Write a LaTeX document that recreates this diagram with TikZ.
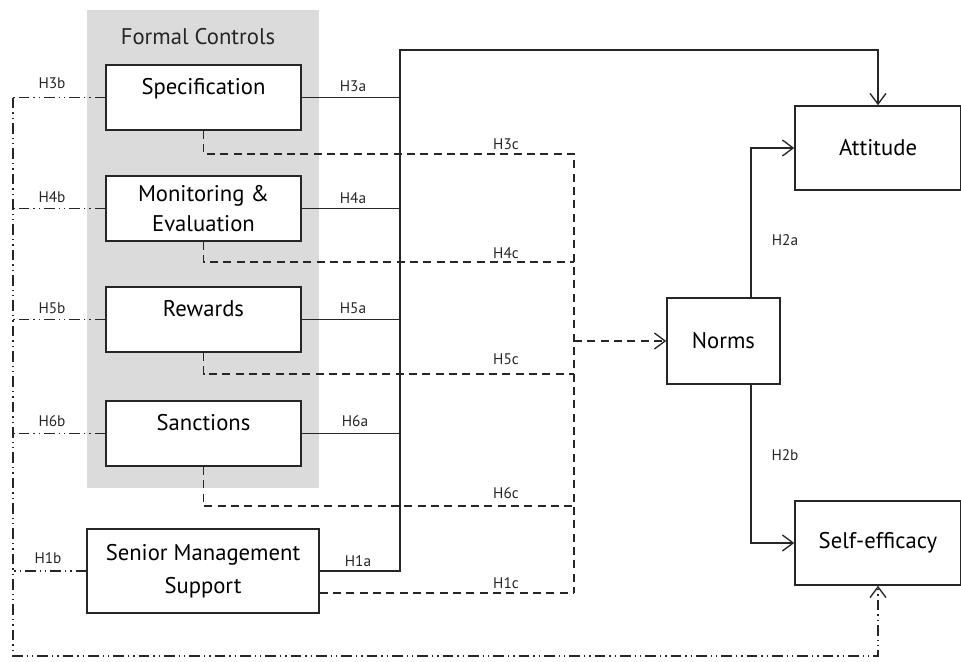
\documentclass[tikz,border=0pt]{standalone}
\usepackage{fontspec}
\setmainfont{PT Sans}
\usetikzlibrary{arrows.meta,calc}

\tikzset{
  box/.style={draw=black!85, fill=white, line width=1.2pt, font=\fontsize{17}{22.5}\selectfont, align=center, inner sep=0pt},
  upbox/.style={box, text height=12pt, text depth=17pt},
  hlab/.style={font=\fontsize{11.5}{13}\selectfont, inner sep=0pt, text=black!85},
  solidline/.style={line width=1pt, draw=black!85},
  dashline/.style={line width=1pt, draw=black!85, dash pattern=on 6pt off 4pt},
  dashdotline/.style={line width=1pt, draw=black!85, dash pattern=on 8pt off 3pt on 1pt off 3pt on 1pt off 3pt},
  openarrow/.style={-{Straight Barb[length=8pt,width=12pt]}},
}

\begin{document}
\begin{tikzpicture}[x=0.75pt,y=-0.75pt]
			%%%%% START %%%%%
			\useasboundingbox (0,0) rectangle (961,661);

			% shaded group
			\fill[black!14] (87,10) rectangle (319,488);
			\node[font=\fontsize{17}{20}\selectfont, text=black!85] (fc) at (198,37) {Formal Controls};

			% boxes
			\node[upbox, minimum width=146pt, minimum height=49pt] (spec) at (203.5,97.5) {Specification};
			\node[box, minimum width=146pt, minimum height=49pt] (mon) at (203.5,208.5) {Monitoring \&\\Evaluation};
			\node[upbox, minimum width=146pt, minimum height=49pt] (rew) at (203.5,319.5) {Rewards};
			\node[upbox, minimum width=146pt, minimum height=49pt] (sanc) at (203.5,433.5) {Sanctions};
			\node[box, minimum width=174pt, minimum height=63pt] (senior) at (203,571) {Senior Management\\[2.5pt]Support};

			\node[box, minimum width=124.5pt, minimum height=63pt] (att) at (878,148) {Attitude};
			\node[box, minimum width=84.75pt, minimum height=64.5pt] (norms) at (723.5,341) {Norms};
			\node[box, minimum width=124.5pt, minimum height=63pt] (self) at (878,543) {Self-efficacy};

			% bars
			\coordinate (bustop) at (400,50);
			\coordinate (ctop) at (574,154);
			\coordinate (c4) at (574,262);
			\coordinate (c5) at (574,374);
			\coordinate (c6) at (574,506);
			\coordinate (cbot) at (574,593);
			\coordinate (btop) at (13,97.5);
			\coordinate (bbot) at (13,656);

			% a paths
			\draw[solidline] (spec.east) -- (spec.east -| bustop);
			\draw[solidline] (mon.east) -- (mon.east -| bustop);
			\draw[solidline] (rew.east) -- (rew.east -| bustop);
			\draw[solidline] (sanc.east) -- (sanc.east -| bustop);
			\draw[solidline, openarrow] (senior.east) -| (bustop) -| (att.north);

			% c paths
			\draw[dashline] (spec.south) |- (ctop) -- (cbot);
			\draw[dashline] (mon.south) |- (c4);
			\draw[dashline] (rew.south) |- (c5);
			\draw[dashline] (sanc.south) |- (c6);
			\draw[dashline] ([yshift=-16.5pt]senior.east) -- (cbot);
			\draw[dashline, openarrow] (norms.west -| ctop) -- (norms.west);

			% b paths
			\draw[dashdotline] (spec.west) -- (btop);
			\draw[dashdotline] (mon.west) -- (mon.west -| btop);
			\draw[dashdotline] (rew.west) -- (rew.west -| btop);
			\draw[dashdotline] (sanc.west) -- (sanc.west -| btop);
			\draw[dashdotline] (senior.west) -- (senior.west -| btop);
			\draw[dashdotline, openarrow] (btop) -- (bbot) -| (self.south);

			% norms to outcomes
			\draw[solidline, openarrow] ([xshift=20.6pt]norms.north) |- (att.west);
			\draw[solidline, openarrow] ([xshift=20.6pt]norms.south) |- (self.west);

			% labels
			\node[hlab] (h3b) at (52,83) {H3b};
			\node[hlab] (h4b) at (52,197) {H4b};
			\node[hlab] (h5b) at (52,308) {H5b};
			\node[hlab] (h6b) at (52,421) {H6b};
			\node[hlab] (h1b) at (48,558) {H1b};
			\node[hlab] (h3a) at (353,86) {H3a};
			\node[hlab] (h4a) at (353,198) {H4a};
			\node[hlab] (h5a) at (353,308) {H5a};
			\node[hlab] (h6a) at (355,421) {H6a};
			\node[hlab] (h1a) at (358,561) {H1a};
			\node[hlab] (h3c) at (506,144) {H3c};
			\node[hlab] (h4c) at (506,253) {H4c};
			\node[hlab] (h5c) at (506,359) {H5c};
			\node[hlab] (h6c) at (506,493) {H6c};
			\node[hlab] (h1c) at (506,583) {H1c};
			\node[hlab] (h2a) at (785,240) {H2a};
			\node[hlab] (h2b) at (785,455) {H2b};
			%%%%% END %%%%%
\end{tikzpicture}
\end{document}
